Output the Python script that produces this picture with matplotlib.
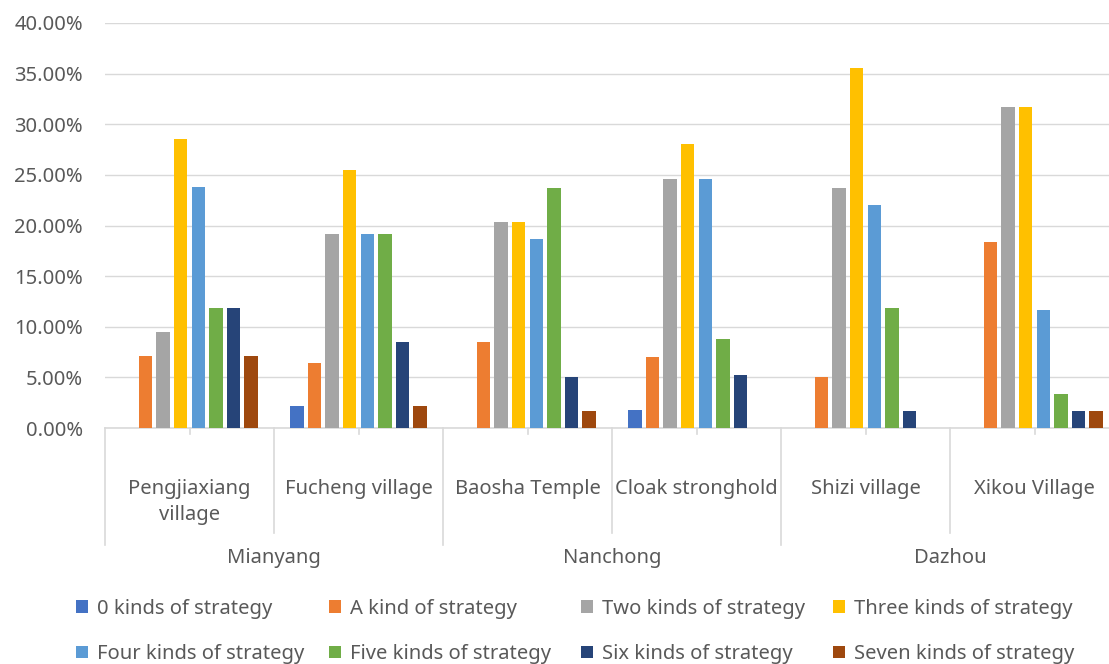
import matplotlib
matplotlib.use("Agg")
import matplotlib.pyplot as plt
from matplotlib.patches import Patch
from matplotlib.ticker import FuncFormatter
import matplotlib.transforms as mtransforms

plt.rcParams['font.family'] = ['Noto Sans', 'DejaVu Sans']

villages = ["Pengjiaxiang\nvillage", "Fucheng village", "Baosha Temple",
            "Cloak stronghold", "Shizi village", "Xikou Village"]
cities = ["Mianyang", "Nanchong", "Dazhou"]
series_names = ["0 kinds of strategy", "A kind of strategy", "Two kinds of strategy",
                "Three kinds of strategy", "Four kinds of strategy", "Five kinds of strategy",
                "Six kinds of strategy", "Seven kinds of strategy"]
colors = ["#4472C4", "#ED7D31", "#A5A5A5", "#FFC000", "#5B9BD5", "#70AD47", "#264478", "#9E480E"]

s0 = [0.00, 2.13, 0.00, 1.75, 0.00, 0.00]
s1 = [7.14, 6.38, 8.47, 7.02, 5.08, 18.33]
s2 = [9.52, 19.15, 20.34, 24.56, 23.73, 31.67]
s3 = [28.57, 25.53, 20.34, 28.07, 35.59, 31.67]
s4 = [23.81, 19.15, 18.64, 24.56, 22.03, 11.67]
s5 = [11.90, 19.15, 23.73, 8.77, 11.86, 3.33]
s6 = [11.90, 8.51, 5.08, 5.26, 1.69, 1.67]
s7 = [7.14, 2.13, 1.69, 0.00, 0.00, 1.67]
series = [s0, s1, s2, s3, s4, s5, s6, s7]

W, H = 1109, 664
fig = plt.figure(figsize=(W / 100, H / 100), dpi=100)
ax = fig.add_axes([105 / W, 1 - 428 / H, (W - 105) / W, (428 - 23) / H])

text_color = "#595959"
grid_color = "#D9D9D9"
fs = 14.5

slot = 17.6 / 169
bw = 13.5 / 169
x = list(range(len(villages)))
for j, (vals, c) in enumerate(zip(series, colors)):
    ax.bar([xi + (j - 3.5) * slot for xi in x], vals, width=bw, color=c, zorder=3)

ax.set_ylim(0, 40)
ax.set_xlim(-0.5, 5.5 - 10 / 169)
ax.set_yticks([0, 5, 10, 15, 20, 25, 30, 35, 40])
ax.yaxis.set_major_formatter(FuncFormatter(lambda v, p: f"{v:.2f}%"))
ax.tick_params(axis='y', length=0, pad=16, labelsize=fs, labelcolor=text_color)
ax.set_xticks([])
ax.grid(axis='y', color=grid_color, linewidth=1.0, zorder=0)
for sp in ['top', 'right', 'left']:
    ax.spines[sp].set_visible(False)
ax.spines['bottom'].set_color(grid_color)
ax.spines['bottom'].set_linewidth(1.2)

trans = mtransforms.blended_transform_factory(ax.transData, ax.transAxes)
ah = 428 - 23  # axes height in px
def py(px):
    return (428 - px) / ah

# group separators
for b in [-0.5, 1.5, 3.5]:
    ax.plot([b, b], [0, py(545)], transform=trans, color=grid_color, lw=1.2, clip_on=False)
# category separators
for b in [0.5, 2.5, 4.5]:
    ax.plot([b, b], [0, py(533)], transform=trans, color=grid_color, lw=1.2, clip_on=False)
# small ticks at centers
for xi in x:
    ax.plot([xi, xi], [0, py(434)], transform=trans, color=grid_color, lw=1.2, clip_on=False)

for xi, lab in zip(x, villages):
    ax.text(xi, py(479), lab, transform=trans, ha='center', va='top', fontsize=fs,
            color=text_color, linespacing=1.4, clip_on=False)
for k, city in enumerate(cities):
    ax.text(2 * k + 0.5, py(558), city, transform=trans, ha='center', va='center',
            fontsize=fs, color=text_color, clip_on=False)

# legend: four columns at fixed positions, two rows
col_x = [76, 329, 581, 833]
for c in range(4):
    idx = [c, c + 4]
    handles = [Patch(facecolor=colors[i], edgecolor='none') for i in idx]
    labels = [series_names[i] for i in idx]
    fig.legend(handles, labels, loc='center left', bbox_to_anchor=(col_x[c] / W, 1 - 631.5 / H),
               frameon=False, fontsize=fs, labelcolor=text_color, handlelength=0.6,
               handleheight=0.6, handletextpad=0.45, labelspacing=1.25,
               borderpad=0, borderaxespad=0)

fig.savefig("out.png", dpi=100)
